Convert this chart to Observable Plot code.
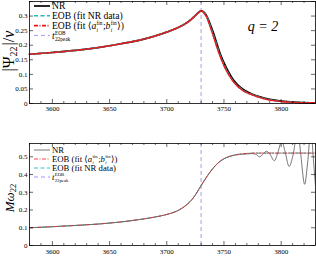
<!DOCTYPE html>
<html><head><meta charset="utf-8">
<script src="https://cdn.jsdelivr.net/npm/d3@7"></script>
<script src="https://cdn.jsdelivr.net/npm/@observablehq/plot@0.6"></script>
<style>
html,body{margin:0;padding:0;background:#fff;}
#wrap{position:relative;width:316px;height:256px;overflow:hidden;font-family:"Liberation Serif","DejaVu Serif",serif;}
#top,#bot{position:absolute;left:0;}
#top{top:0}
#bot{top:126px}
#ov{position:absolute;left:0;top:0;pointer-events:none;}
</style></head>
<body><div id="wrap"><div id="top"></div><div id="bot"></div></div>
<script>
// ---- data ----
const tPeak = 3730;
const xMajor = [3600, 3650, 3700, 3750, 3800];
const xMinor = [3580,3590,3610,3620,3630,3640,3660,3670,3680,3690,3710,3720,3730,3740,3760,3770,3780,3790,3810,3820,3830];
const yTopTicks = [0, 0.05, 0.1, 0.15, 0.2, 0.25, 0.3, 0.35];
const yBotTicks = [0, 0.1, 0.2, 0.3, 0.4, 0.5];

// top panel: |Psi22|/nu
const ampT =      [3580, 3600, 3620, 3640, 3660, 3680, 3690, 3700, 3710, 3715, 3720, 3725, 3728, 3730, 3732, 3735, 3738, 3741, 3744, 3747, 3750, 3754, 3758, 3762, 3766, 3770, 3775, 3780, 3790, 3800, 3815, 3830];
const ampNR =     [0.169,0.175,0.182,0.192,0.205,0.221,0.232,0.245,0.261,0.271,0.284,0.302,0.313,0.318,0.315,0.300,0.272,0.240,0.203,0.168,0.140,0.108,0.082,0.064,0.051,0.041,0.032,0.025,0.014,0.008,0.004,0.002];
const ampEOBnr =  [0.169,0.175,0.182,0.192,0.205,0.221,0.232,0.245,0.261,0.271,0.284,0.302,0.313,0.318,0.314,0.297,0.266,0.232,0.195,0.161,0.133,0.102,0.077,0.060,0.047,0.038,0.030,0.023,0.013,0.007,0.004,0.002];
const ampEOBab =  [0.169,0.175,0.182,0.192,0.205,0.221,0.232,0.245,0.261,0.271,0.284,0.302,0.313,0.318,0.313,0.295,0.263,0.228,0.191,0.158,0.130,0.100,0.076,0.059,0.046,0.037,0.029,0.022,0.012,0.007,0.003,0.002];

// bottom panel: M omega22
const omT =    [3580, 3600, 3620, 3640, 3660, 3680, 3690, 3700, 3710, 3720, 3725, 3730, 3735, 3740, 3745, 3750, 3755, 3760, 3765, 3770, 3775, 3778, 3781, 3784, 3787, 3790, 3794, 3797, 3800.5, 3803, 3807, 3810, 3814.5, 3817, 3820.5, 3823, 3826, 3828, 3831];
const omNR =   [0.100,0.106,0.113,0.121,0.133,0.150,0.161,0.175,0.198,0.245,0.285,0.338,0.388,0.432,0.466,0.489,0.502,0.510,0.514,0.516,0.518,0.514,0.500,0.514,0.532,0.516,0.478,0.522,0.590,0.540,0.445,0.500,0.650,0.520,0.345,0.460,0.660,0.500,0.250];
const omEOBT = [3580, 3600, 3620, 3640, 3660, 3680, 3690, 3700, 3710, 3720, 3725, 3730, 3735, 3740, 3745, 3750, 3755, 3760, 3765, 3770, 3780, 3800, 3830];
const omEOBab= [0.100,0.106,0.113,0.121,0.133,0.150,0.161,0.175,0.198,0.245,0.285,0.338,0.388,0.432,0.466,0.489,0.503,0.511,0.516,0.519,0.521,0.521,0.521];
const omEOBnr= [0.100,0.106,0.113,0.121,0.133,0.150,0.161,0.175,0.198,0.245,0.285,0.338,0.388,0.432,0.466,0.489,0.503,0.511,0.516,0.519,0.521,0.521,0.521];

const zip = (ts, vs) => ts.map((t, i) => ({t, v: vs[i]}));

const W = 316, ML = 29, MR = 1;
const FW = W - ML - MR;
const fmtY = d => String(+d.toFixed(2));
const CYAN = "#17bdbd", RED = "#e8191c", BLUE = "#9c9cf0";
const FONT = "Liberation Serif, DejaVu Serif, serif";

function tickMarks(FH, yTicks) {
  const s = {stroke: "black", strokeWidth: 0.6};
  return [
    Plot.tickX(xMajor, {x: d => d, insetTop: FH - 4, ...s}),
    Plot.tickX(xMajor, {x: d => d, insetBottom: FH - 4, ...s}),
    Plot.tickX(xMinor, {x: d => d, insetTop: FH - 2, ...s}),
    Plot.tickX(xMinor, {x: d => d, insetBottom: FH - 2, ...s}),
    Plot.tickY(yTicks, {y: d => d, insetRight: FW - 4, ...s}),
    Plot.tickY(yTicks, {y: d => d, insetLeft: FW - 4, ...s})
  ];
}

const common = {
  width: W, marginLeft: ML, marginRight: MR,
  x: {domain: [3580, 3830]},
  style: {fontFamily: FONT, fontSize: "7px", background: "transparent", color: "black"}
};

// top plot
const topH = 126, topMT = 1, topMB = 23;
const topPlot = Plot.plot({
  ...common, height: topH, marginTop: topMT, marginBottom: topMB,
  y: {domain: [0, 0.35]},
  marks: [
    Plot.ruleX([tPeak], {stroke: BLUE, strokeWidth: 1, strokeDasharray: "4,3"}),
    Plot.line(zip(ampT, ampNR), {x: "t", y: "v", stroke: "black", strokeWidth: 1.7, curve: "monotone-x"}),
    Plot.line(zip(ampT, ampEOBnr), {x: "t", y: "v", stroke: CYAN, strokeWidth: 1.6, strokeDasharray: "4,2.5", curve: "monotone-x"}),
    Plot.line(zip(ampT, ampEOBab), {x: "t", y: "v", stroke: RED, strokeWidth: 1.6, strokeDasharray: "4,1.5,1,1.5", curve: "monotone-x"}),
    ...tickMarks(topH - topMT - topMB, yTopTicks),
    Plot.frame({stroke: "black", strokeWidth: 0.8}),
    Plot.axisX({ticks: xMajor, tickSize: 0, tickPadding: 3, label: null, tickFormat: d => String(d)}),
    Plot.axisY({ticks: yTopTicks.slice(0, 7), tickSize: 0, tickPadding: 2, label: null, tickFormat: fmtY})
  ]
});
document.getElementById("top").appendChild(topPlot);

// bottom plot
const botH = 130, botMT = 17, botMB = 11;
const botPlot = Plot.plot({
  ...common, height: botH, marginTop: botMT, marginBottom: botMB,
  y: {domain: [0, 0.575]},
  marks: [
    Plot.ruleX([tPeak], {stroke: BLUE, strokeWidth: 1, strokeDasharray: "4,3"}),
    Plot.line(zip(omT, omNR), {x: "t", y: "v", stroke: "#555", strokeWidth: 0.8, curve: "catmull-rom", clip: true}),
    Plot.line(zip(omEOBT, omEOBnr), {x: "t", y: "v", stroke: CYAN, strokeWidth: 0.9, strokeDasharray: "4,2.5", curve: "monotone-x"}),
    Plot.line(zip(omEOBT, omEOBab), {x: "t", y: "v", stroke: RED, strokeWidth: 0.8, strokeDasharray: "4,1.5,1,1.5", curve: "monotone-x"}),
    ...tickMarks(botH - botMT - botMB, yBotTicks),
    Plot.frame({stroke: "black", strokeWidth: 0.8}),
    Plot.axisX({ticks: xMajor, tickSize: 0, tickPadding: 4, label: null, tickFormat: d => String(d)}),
    Plot.axisY({ticks: yBotTicks, tickSize: 0, tickPadding: 2, label: null, tickFormat: fmtY})
  ]
});
document.getElementById("bot").appendChild(botPlot);

// overlay: legends, y labels, annotation
const ov = d3.select("#wrap").append("svg").attr("id", "ov").attr("width", W).attr("height", 256);

// lay out a run of segments; a segment is plain text or a stacked sup/sub pair
function runText(x, y, fs, segs) {
  segs.forEach(p => {
    if (p.stack) {
      const sfs = fs * 0.55;
      const a = ov.append("text").attr("x", x).attr("y", y - fs * 0.42).attr("font-size", sfs).attr("font-family", FONT).text(p.stack[0]);
      const b = ov.append("text").attr("x", x).attr("y", y + fs * 0.3).attr("font-size", sfs).attr("font-family", FONT).text(p.stack[1]);
      if (p.it1) b.attr("font-style", "italic");
      x += Math.max(a.node().getComputedTextLength(), b.node().getComputedTextLength()) + 0.5;
    } else {
      const t = ov.append("text").attr("x", x).attr("y", y).attr("font-size", fs).attr("font-family", FONT).text(p.s);
      if (p.it) t.attr("font-style", "italic");
      x += t.node().getComputedTextLength() + (p.gap || 0);
    }
  });
}

function legend(y0, dy, items, fs) {
  items.forEach((it, i) => {
    const y = y0 + i * dy;
    ov.append("line").attr("x1", 34).attr("x2", 50).attr("y1", y).attr("y2", y)
      .attr("stroke", it.color).attr("stroke-width", it.w).attr("stroke-dasharray", it.dash || null);
    runText(52, y + fs * 0.33, fs, it.parts);
  });
}
const abParts = [{s: "EOB (fit ⟨"}, {s: "a", it: true, gap: 0.3}, {stack: ["fin", "i"], it1: true}, {s: "; "}, {s: "b", it: true, gap: 0.3}, {stack: ["fin", "i"], it1: true}, {s: "⟩)"}];
const nrParts = [{s: "EOB (fit NR data)"}];
const tParts = [{s: "t", it: true, gap: 0.3}, {stack: ["EOB", "22peak"]}];

legend(6, 9.8, [
  {color: "black", w: 1.7, parts: [{s: "NR"}]},
  {color: CYAN, w: 1.6, dash: "4,2.5", parts: nrParts},
  {color: RED, w: 1.6, dash: "4,1.5,1,1.5", parts: abParts},
  {color: BLUE, w: 1, dash: "4,3", parts: tParts}
], 9.6);

legend(150, 9, [
  {color: "#555", w: 0.8, parts: [{s: "NR"}]},
  {color: RED, w: 0.8, dash: "4,1.5,1,1.5", parts: abParts},
  {color: CYAN, w: 0.9, dash: "4,2.5", parts: nrParts},
  {color: BLUE, w: 1, dash: "4,3", parts: tParts}
], 8.7);

// y labels
const yl1 = ov.append("text").attr("transform", "translate(14,51) rotate(-90)").attr("text-anchor", "middle")
  .attr("font-size", 16).attr("font-family", FONT);
yl1.append("tspan").text("|Ψ");
yl1.append("tspan").text("22").attr("font-size", 10).attr("baseline-shift", "-25%");
yl1.append("tspan").text("|/").attr("dx", 1);
yl1.append("tspan").text("ν").attr("font-style", "italic");

const yl2 = ov.append("text").attr("transform", "translate(14,198) rotate(-90)").attr("text-anchor", "middle")
  .attr("font-size", 13).attr("font-family", FONT);
yl2.append("tspan").text("Mω").attr("font-style", "italic");
yl2.append("tspan").text("22").attr("font-size", 8.5).attr("baseline-shift", "-25%");

// q = 2
ov.append("text").attr("x", 263).attr("y", 31).attr("text-anchor", "middle").attr("font-size", 14)
  .attr("font-family", FONT).attr("font-style", "italic").text("q = 2");
</script></body></html>
